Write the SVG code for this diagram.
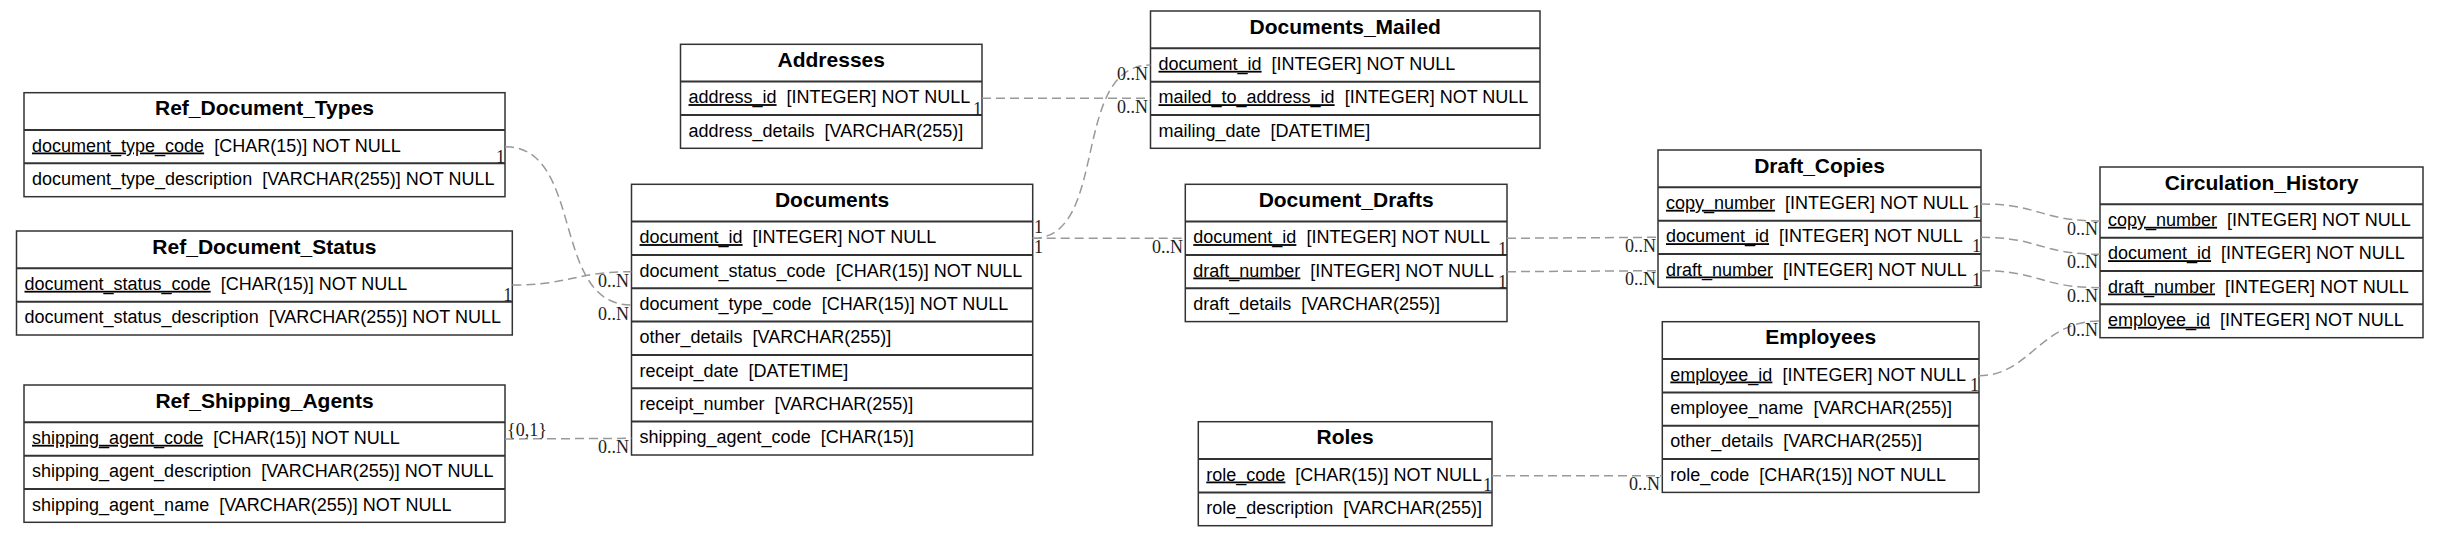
<svg xmlns="http://www.w3.org/2000/svg" width="2439" height="537" viewBox="0 0 2439 537">
<style>
.box{fill:#fff;stroke:#333;stroke-width:1.5}
.sep{stroke:#333;stroke-width:2}
.title{font-family:"Liberation Sans",Arial,sans-serif;font-size:21px;font-weight:bold;text-anchor:middle;fill:#000}
.f{font-family:"Liberation Sans",Arial,sans-serif;font-size:18px;fill:#000;white-space:pre}
.k{text-decoration:underline}
.edge{fill:none;stroke:#999;stroke-width:1.5;stroke-dasharray:9,5}
.lbl{font-family:"Liberation Serif","Times New Roman",serif;font-size:18px;fill:#222}
.e{text-anchor:end}
</style>
<rect width="2439" height="537" fill="#fff"/>

<g id="Ref_Document_Types">
<rect class="box" x="24" y="92.7" width="481" height="104"/>
<text class="title" x="264.5" y="115.2">Ref_Document_Types</text>
<line class="sep" x1="24" y1="130" x2="505" y2="130"/>
<line class="sep" x1="24" y1="163.3" x2="505" y2="163.3"/>
<text class="f" x="32" y="151.5"><tspan class="k">document_type_code</tspan>  [CHAR(15)] NOT NULL</text>
<text class="f" x="32" y="184.8">document_type_description  [VARCHAR(255)] NOT NULL</text>
</g>

<g id="Ref_Document_Status">
<rect class="box" x="16.5" y="231" width="495.8" height="104"/>
<text class="title" x="264.4" y="253.5">Ref_Document_Status</text>
<line class="sep" x1="16.5" y1="268.3" x2="512.3" y2="268.3"/>
<line class="sep" x1="16.5" y1="301.7" x2="512.3" y2="301.7"/>
<text class="f" x="24.5" y="289.8"><tspan class="k">document_status_code</tspan>  [CHAR(15)] NOT NULL</text>
<text class="f" x="24.5" y="323.2">document_status_description  [VARCHAR(255)] NOT NULL</text>
</g>

<g id="Ref_Shipping_Agents">
<rect class="box" x="24" y="385" width="481" height="137.3"/>
<text class="title" x="264.5" y="407.5">Ref_Shipping_Agents</text>
<line class="sep" x1="24" y1="422.3" x2="505" y2="422.3"/>
<line class="sep" x1="24" y1="455.7" x2="505" y2="455.7"/>
<line class="sep" x1="24" y1="489" x2="505" y2="489"/>
<text class="f" x="32" y="443.8"><tspan class="k">shipping_agent_code</tspan>  [CHAR(15)] NOT NULL</text>
<text class="f" x="32" y="477.2">shipping_agent_description  [VARCHAR(255)] NOT NULL</text>
<text class="f" x="32" y="510.5">shipping_agent_name  [VARCHAR(255)] NOT NULL</text>
</g>

<g id="Addresses">
<rect class="box" x="680.5" y="44.3" width="301.5" height="104"/>
<text class="title" x="831.25" y="66.8">Addresses</text>
<line class="sep" x1="680.5" y1="81.6" x2="982" y2="81.6"/>
<line class="sep" x1="680.5" y1="115" x2="982" y2="115"/>
<text class="f" x="688.5" y="103.1"><tspan class="k">address_id</tspan>  [INTEGER] NOT NULL</text>
<text class="f" x="688.5" y="136.5">address_details  [VARCHAR(255)]</text>
</g>

<g id="Documents">
<rect class="box" x="631.5" y="184.3" width="401.2" height="270.7"/>
<text class="title" x="832.1" y="206.8">Documents</text>
<line class="sep" x1="631.5" y1="221.6" x2="1032.7" y2="221.6"/>
<line class="sep" x1="631.5" y1="255" x2="1032.7" y2="255"/>
<line class="sep" x1="631.5" y1="288.3" x2="1032.7" y2="288.3"/>
<line class="sep" x1="631.5" y1="321.6" x2="1032.7" y2="321.6"/>
<line class="sep" x1="631.5" y1="355" x2="1032.7" y2="355"/>
<line class="sep" x1="631.5" y1="388.3" x2="1032.7" y2="388.3"/>
<line class="sep" x1="631.5" y1="421.6" x2="1032.7" y2="421.6"/>
<text class="f" x="639.5" y="243.1"><tspan class="k">document_id</tspan>  [INTEGER] NOT NULL</text>
<text class="f" x="639.5" y="276.5">document_status_code  [CHAR(15)] NOT NULL</text>
<text class="f" x="639.5" y="309.8">document_type_code  [CHAR(15)] NOT NULL</text>
<text class="f" x="639.5" y="343.1">other_details  [VARCHAR(255)]</text>
<text class="f" x="639.5" y="376.5">receipt_date  [DATETIME]</text>
<text class="f" x="639.5" y="409.8">receipt_number  [VARCHAR(255)]</text>
<text class="f" x="639.5" y="443.1">shipping_agent_code  [CHAR(15)]</text>
</g>

<g id="Documents_Mailed">
<rect class="box" x="1150.5" y="11" width="389.5" height="137.3"/>
<text class="title" x="1345.25" y="33.5">Documents_Mailed</text>
<line class="sep" x1="1150.5" y1="48.3" x2="1540" y2="48.3"/>
<line class="sep" x1="1150.5" y1="81.7" x2="1540" y2="81.7"/>
<line class="sep" x1="1150.5" y1="115" x2="1540" y2="115"/>
<text class="f" x="1158.5" y="69.8"><tspan class="k">document_id</tspan>  [INTEGER] NOT NULL</text>
<text class="f" x="1158.5" y="103.2"><tspan class="k">mailed_to_address_id</tspan>  [INTEGER] NOT NULL</text>
<text class="f" x="1158.5" y="136.5">mailing_date  [DATETIME]</text>
</g>

<g id="Document_Drafts">
<rect class="box" x="1185.3" y="184.3" width="321.7" height="137.3"/>
<text class="title" x="1346.15" y="206.8">Document_Drafts</text>
<line class="sep" x1="1185.3" y1="221.6" x2="1507" y2="221.6"/>
<line class="sep" x1="1185.3" y1="255" x2="1507" y2="255"/>
<line class="sep" x1="1185.3" y1="288.3" x2="1507" y2="288.3"/>
<text class="f" x="1193.3" y="243.1"><tspan class="k">document_id</tspan>  [INTEGER] NOT NULL</text>
<text class="f" x="1193.3" y="276.5"><tspan class="k">draft_number</tspan>  [INTEGER] NOT NULL</text>
<text class="f" x="1193.3" y="309.8">draft_details  [VARCHAR(255)]</text>
</g>

<g id="Roles">
<rect class="box" x="1198.3" y="421.7" width="293.7" height="104"/>
<text class="title" x="1345.15" y="444.2">Roles</text>
<line class="sep" x1="1198.3" y1="459" x2="1492" y2="459"/>
<line class="sep" x1="1198.3" y1="492.4" x2="1492" y2="492.4"/>
<text class="f" x="1206.3" y="480.5"><tspan class="k">role_code</tspan>  [CHAR(15)] NOT NULL</text>
<text class="f" x="1206.3" y="513.9">role_description  [VARCHAR(255)]</text>
</g>

<g id="Draft_Copies">
<rect class="box" x="1658" y="150" width="323" height="137.3"/>
<text class="title" x="1819.5" y="172.5">Draft_Copies</text>
<line class="sep" x1="1658" y1="187.3" x2="1981" y2="187.3"/>
<line class="sep" x1="1658" y1="220.7" x2="1981" y2="220.7"/>
<line class="sep" x1="1658" y1="254" x2="1981" y2="254"/>
<text class="f" x="1666" y="208.8"><tspan class="k">copy_number</tspan>  [INTEGER] NOT NULL</text>
<text class="f" x="1666" y="242.2"><tspan class="k">document_id</tspan>  [INTEGER] NOT NULL</text>
<text class="f" x="1666" y="275.5"><tspan class="k">draft_number</tspan>  [INTEGER] NOT NULL</text>
</g>

<g id="Employees">
<rect class="box" x="1662.3" y="321.7" width="316.7" height="170.7"/>
<text class="title" x="1820.65" y="344.2">Employees</text>
<line class="sep" x1="1662.3" y1="359" x2="1979" y2="359"/>
<line class="sep" x1="1662.3" y1="392.4" x2="1979" y2="392.4"/>
<line class="sep" x1="1662.3" y1="425.7" x2="1979" y2="425.7"/>
<line class="sep" x1="1662.3" y1="459" x2="1979" y2="459"/>
<text class="f" x="1670.3" y="380.5"><tspan class="k">employee_id</tspan>  [INTEGER] NOT NULL</text>
<text class="f" x="1670.3" y="413.9">employee_name  [VARCHAR(255)]</text>
<text class="f" x="1670.3" y="447.2">other_details  [VARCHAR(255)]</text>
<text class="f" x="1670.3" y="480.5">role_code  [CHAR(15)] NOT NULL</text>
</g>

<g id="Circulation_History">
<rect class="box" x="2100" y="167" width="323" height="170.7"/>
<text class="title" x="2261.5" y="189.5">Circulation_History</text>
<line class="sep" x1="2100" y1="204.3" x2="2423" y2="204.3"/>
<line class="sep" x1="2100" y1="237.7" x2="2423" y2="237.7"/>
<line class="sep" x1="2100" y1="271" x2="2423" y2="271"/>
<line class="sep" x1="2100" y1="304.3" x2="2423" y2="304.3"/>
<text class="f" x="2108" y="225.8"><tspan class="k">copy_number</tspan>  [INTEGER] NOT NULL</text>
<text class="f" x="2108" y="259.2"><tspan class="k">document_id</tspan>  [INTEGER] NOT NULL</text>
<text class="f" x="2108" y="292.5"><tspan class="k">draft_number</tspan>  [INTEGER] NOT NULL</text>
<text class="f" x="2108" y="325.8"><tspan class="k">employee_id</tspan>  [INTEGER] NOT NULL</text>
</g>

<g id="connectors">
<path class="edge" d="M505,146.7 C585,146.7 550,305 631.5,305"/>
<path class="edge" d="M512.3,285 C570,285 575,271.7 631.5,271.7"/>
<path class="edge" d="M505,439 L631.5,438.3"/>
<path class="edge" d="M1032.7,238.3 C1110,238.3 1070,65 1150.5,65"/>
<path class="edge" d="M982,98.3 L1150.5,98.3"/>
<path class="edge" d="M1032.7,238.3 L1185.3,238.3"/>
<path class="edge" d="M1507,238.3 L1658,237.3"/>
<path class="edge" d="M1507,271.7 L1658,270.7"/>
<path class="edge" d="M1981,204 C2040,204 2040,221 2100,221"/>
<path class="edge" d="M1981,237.3 C2040,237.3 2040,254.3 2100,254.3"/>
<path class="edge" d="M1981,270.7 C2040,270.7 2040,287.7 2100,287.7"/>
<path class="edge" d="M1979,375.7 C2030,375.7 2040,321 2100,321"/>
<path class="edge" d="M1492,475.7 L1662.3,475.7"/>

<text class="lbl e" x="505" y="162.5">1</text>
<text class="lbl e" x="629" y="319.5">0..N</text>
<text class="lbl e" x="512.3" y="301">1</text>
<text class="lbl e" x="629" y="286.5">0..N</text>
<text class="lbl" x="507" y="436">{0,1}</text>
<text class="lbl e" x="629" y="453">0..N</text>
<text class="lbl" x="1034" y="233.3">1</text>
<text class="lbl e" x="1148" y="80">0..N</text>
<text class="lbl e" x="982" y="114.5">1</text>
<text class="lbl e" x="1148" y="113.3">0..N</text>
<text class="lbl" x="1034" y="253.3">1</text>
<text class="lbl e" x="1183" y="253.3">0..N</text>
<text class="lbl e" x="1507" y="254.5">1</text>
<text class="lbl e" x="1656" y="251.5">0..N</text>
<text class="lbl e" x="1507" y="288">1</text>
<text class="lbl e" x="1656" y="285">0..N</text>
<text class="lbl e" x="1981" y="218">1</text>
<text class="lbl e" x="2098" y="235">0..N</text>
<text class="lbl e" x="1981" y="252">1</text>
<text class="lbl e" x="2098" y="268.3">0..N</text>
<text class="lbl e" x="1981" y="285.5">1</text>
<text class="lbl e" x="2098" y="302">0..N</text>
<text class="lbl e" x="1979" y="391">1</text>
<text class="lbl e" x="2098" y="335.5">0..N</text>
<text class="lbl e" x="1492" y="491">1</text>
<text class="lbl e" x="1660" y="490">0..N</text>
</g>
</svg>
